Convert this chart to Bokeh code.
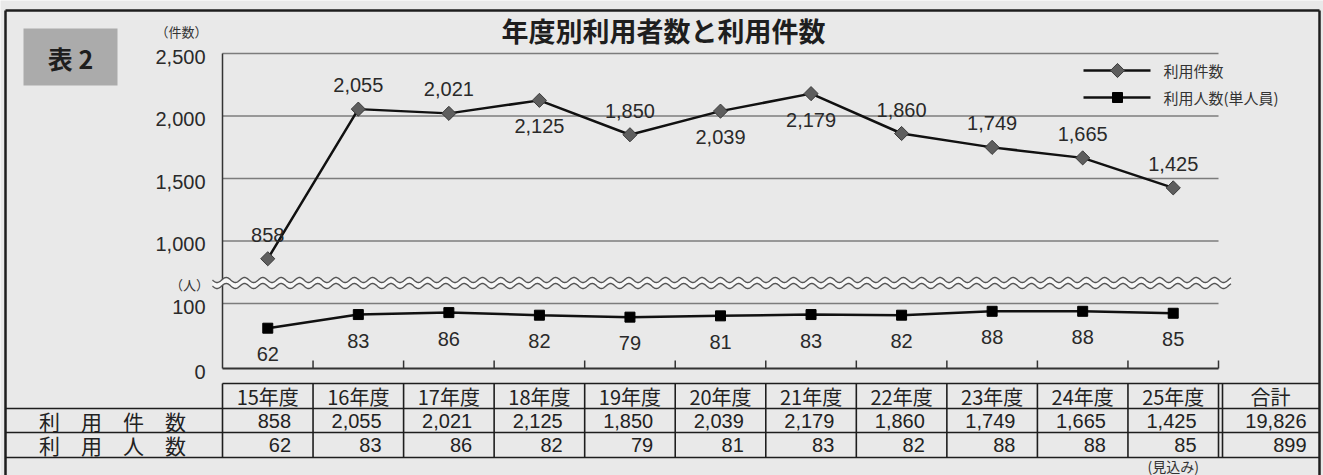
import numpy as np
from bokeh.plotting import figure
from bokeh.models import Range1d
from bokeh.core.properties import value
from bokeh.embed import file_html
from bokeh.resources import INLINE

# ---------------- data ----------------
years = ["15年度", "16年度", "17年度", "18年度", "19年度", "20年度",
         "21年度", "22年度", "23年度", "24年度", "25年度"]
cases = [858, 2055, 2021, 2125, 1850, 2039, 2179, 1860, 1749, 1665, 1425]
people = [62, 83, 86, 82, 79, 81, 83, 82, 88, 88, 85]
case_ticks = [1000, 1500, 2000, 2500]
people_ticks = [0, 100]
case_label_side = ["above", "above", "above", "below", "above", "below",
                   "below", "above", "above", "above", "above"]
title_text = "年度別利用者数と利用件数"
series_names = ["利用件数", "利用人数(単人員)"]
row_names = ["利　用　件　数", "利　用　人　数"]
total_name = "合計"
note_text = "(見込み)"

# ---------------- layout ----------------
W, H = 1323, 475
BG = "#e9e9e9"
INK = "#1e1e1e"
GRID = "#7c7c7c"
PX0, PX1 = 222, 1218          # plot area left/right (px)
TOP_Y, TOP_V, TOP_K = 53, 2500, 8.0   # px of 2500, units per px
BOT_Y0, BOT_K = 368, 0.65     # px of 0, px per unit
JP = "Noto Sans CJK JP"
NUM = "Liberation Sans"

n = len(years)
idx = list(range(n))
cw = (PX1 - PX0) / n

p = figure(width=W, height=H, title=None,
           x_range=Range1d(0, W), y_range=Range1d(H, 0),
           x_axis_type=None, y_axis_type=None,
           output_backend="svg", toolbar_location=None, min_border=0,
           background_fill_color=BG, border_fill_color=BG,
           outline_line_color=None)
p.extra_x_ranges = {"cat": Range1d(-0.5 - PX0 / cw, -0.5 + (W - PX0) / cw)}
p.extra_y_ranges = {
    "cnt": Range1d(TOP_V - (H - TOP_Y) * TOP_K, TOP_V + TOP_Y * TOP_K),
    "ppl": Range1d(-(H - BOT_Y0) / BOT_K, BOT_Y0 / BOT_K),
}

# ---------------- frame & title ----------------
p.multi_line(xs=[[5, 1319], [5, 5], [1319, 1319]],
             ys=[[10, 10], [10, H], [10, H]], line_color=INK, line_width=2.5)
p.quad(left=[23], right=[117], top=[28], bottom=[85],
       fill_color="#ababab", line_color=None)
p.text(x=[70], y=[57], text=["表 2"], text_font=value(JP), text_font_style="bold",
       text_font_size="25px", text_align="center", text_baseline="middle",
       text_color=INK)
p.text(x=[663], y=[30], text=[title_text], text_font=value(JP),
       text_font_style="bold", text_font_size="27px", text_align="center",
       text_baseline="middle", text_color=INK)
p.text(x=[181], y=[31], text=["（件数）"], text_font=value(JP),
       text_font_size="13px", text_align="center", text_baseline="middle",
       text_color="#333333")
p.text(x=[189], y=[284], text=["（人）"], text_font=value(JP),
       text_font_size="13px", text_align="center", text_baseline="middle",
       text_color="#333333")

# ---------------- grids & axes ----------------
p.segment(x0=[PX0] * len(case_ticks), x1=[PX1] * len(case_ticks),
          y0=case_ticks, y1=case_ticks, y_range_name="cnt",
          line_color=GRID, line_width=1.3)
p.text(x=[205] * len(case_ticks), y=case_ticks,
       text=[f"{v:,}" for v in case_ticks], y_range_name="cnt",
       text_font=value(NUM), text_font_size="20px", text_align="right",
       text_baseline="middle", y_offset=3, text_color="#2a2a2a")
p.segment(x0=[PX0], x1=[PX1], y0=[people_ticks[-1]], y1=[people_ticks[-1]],
          y_range_name="ppl", line_color=GRID, line_width=1.3)
p.segment(x0=[PX0], x1=[PX1], y0=[people_ticks[0]], y1=[people_ticks[0]],
          y_range_name="ppl", line_color="#333333", line_width=1.8)
p.text(x=[205] * len(people_ticks), y=people_ticks,
       text=[f"{v:,}" for v in people_ticks], y_range_name="ppl",
       text_font=value(NUM), text_font_size="20px", text_align="right",
       text_baseline="middle", y_offset=3, text_color="#2a2a2a")
# left axis line (both panels)
p.segment(x0=[PX0], x1=[PX0], y0=[TOP_Y], y1=[BOT_Y0],
          line_color="#333333", line_width=1.5)
# category ticks on bottom axis
bounds = [i + 0.5 for i in idx]
p.segment(x0=bounds, x1=bounds, y0=[BOT_Y0 - 8] * n, y1=[BOT_Y0] * n,
          x_range_name="cat", line_color="#333333", line_width=1.5)

# axis break (double wavy line)
wx = np.arange(212, 1231, 0.5)
wy1 = 279.5 + 2.5 * np.sin(2 * np.pi * (wx - 212) / 18.3)
wy2 = wy1 + 6.0
p.patch(x=np.concatenate([wx, wx[::-1]]), y=np.concatenate([wy1, wy2[::-1]]),
        fill_color="#f8f8f8", line_color=None)
p.multi_line(xs=[wx, wx], ys=[wy1, wy2], line_color="#555555", line_width=1.4)

# ---------------- series ----------------
p.line(x=idx, y=cases, x_range_name="cat", y_range_name="cnt",
       line_color="#111111", line_width=2.5)
p.scatter(x=idx, y=cases, x_range_name="cat", y_range_name="cnt",
          marker="square", angle=np.pi / 4, size=10,
          fill_color="#5e5e5e", line_color="#3a3a3a", line_width=1)
p.line(x=idx, y=people, x_range_name="cat", y_range_name="ppl",
       line_color="#111111", line_width=2.5)
p.scatter(x=idx, y=people, x_range_name="cat", y_range_name="ppl",
          marker="square", size=10, fill_color="#000000", line_color="#000000")

case_offsets = [-24 if s == "above" else 26 for s in case_label_side]
p.text(x=idx, y=cases, text=[f"{v:,}" for v in cases], y_offset=case_offsets,
       x_range_name="cat", y_range_name="cnt", text_font=value(NUM),
       text_font_size="20px", text_align="center", text_baseline="middle",
       text_color="#2a2a2a")
p.text(x=idx, y=people, text=[f"{v:,}" for v in people], y_offset=26,
       x_range_name="cat", y_range_name="ppl", text_font=value(NUM),
       text_font_size="20px", text_align="center", text_baseline="middle",
       text_color="#2a2a2a")

# ---------------- legend (drawn) ----------------
LY = [70, 97]
p.segment(x0=[1083, 1083], x1=[1150, 1150], y0=LY, y1=LY,
          line_color="#111111", line_width=2.5)
p.scatter(x=[1117], y=[LY[0]], marker="square", angle=np.pi / 4, size=10,
          fill_color="#5e5e5e", line_color="#3a3a3a", line_width=1)
p.scatter(x=[1117], y=[LY[1]], marker="square", size=10,
          fill_color="#000000", line_color="#000000")
p.text(x=[1163, 1163], y=LY, text=series_names, text_font=value(JP),
       text_font_size="15px", text_align="left", text_baseline="middle",
       text_color="#333333")

# ---------------- table ----------------
TY = [383, 408, 432, 457]
p.segment(x0=[PX0, 5, 5, 5], x1=[1319] * 4, y0=TY, y1=TY,
          line_color=INK, line_width=1.6)
vb = [-0.5] + bounds
p.segment(x0=vb, x1=vb, y0=[TY[0]] * len(vb), y1=[TY[-1]] * len(vb),
          x_range_name="cat", line_color=INK, line_width=1.6)
p.segment(x0=[PX1 + 4], x1=[PX1 + 4], y0=[TY[0]], y1=[TY[-1]],
          line_color=INK, line_width=1.6)

p.text(x=idx, y=[396] * n, text=years, x_range_name="cat", text_font=value(JP),
       text_font_size="20px", text_align="center", text_baseline="middle",
       text_color="#222222")
p.text(x=[1270], y=[396], text=[total_name], text_font=value(JP),
       text_font_size="20px", text_align="center", text_baseline="middle",
       text_color="#222222")
p.text(x=bounds, y=[420] * n, text=[f"{v:,}" for v in cases], x_offset=-22,
       x_range_name="cat", text_font=value(NUM), text_font_size="20px",
       text_align="right", text_baseline="middle", text_color="#222222")
p.text(x=bounds, y=[444] * n, text=[f"{v:,}" for v in people], x_offset=-22,
       x_range_name="cat", text_font=value(NUM), text_font_size="20px",
       text_align="right", text_baseline="middle", text_color="#222222")
p.text(x=[1306, 1306], y=[420, 444],
       text=[f"{sum(cases):,}", f"{sum(people):,}"], text_font=value(NUM),
       text_font_size="20px", text_align="right", text_baseline="middle",
       text_color="#222222")
p.text(x=[112, 112], y=[420, 444], text=row_names, text_font=value(JP),
       text_font_size="21px", text_align="center", text_baseline="middle",
       text_color="#222222")
p.text(x=[idx[-1]], y=[465], text=[note_text], x_range_name="cat",
       text_font=value(JP), text_font_size="14px", text_align="center",
       text_baseline="middle", text_color="#333333")

open("out.html", "w").write(file_html(p, INLINE))
